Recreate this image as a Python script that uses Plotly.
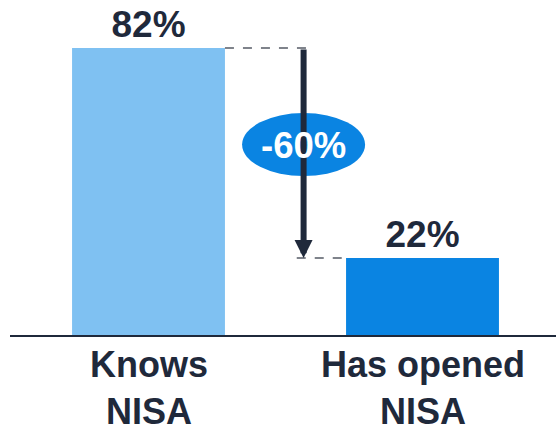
import plotly.graph_objects as go

# Survey results: awareness vs. account opening
categories = ["Knows<br>NISA", "Has opened<br>NISA"]
values = [82, 22]
bar_colors = ["#7fc1f2", "#0a84e2"]
change_label = "-60%"

INK = "#1f293b"
FONT = "Liberation Sans, Arial, sans-serif"

WIDTH, HEIGHT = 556, 434
MARGIN_B = 99
PLOT_H = HEIGHT - MARGIN_B

x_pos = list(range(len(categories)))
bar_width = 0.558

fig = go.Figure()
fig.add_trace(go.Bar(
    x=x_pos,
    y=values,
    width=bar_width,
    marker=dict(color=bar_colors, line=dict(width=0)),
    text=[f"{v}%" for v in values],
    texttemplate="<b>%{text}</b>",
    textposition="outside",
    textfont=dict(family=FONT, size=37, color=INK),
    cliponaxis=False,
    hoverinfo="skip",
))

# Category names under the baseline
for xp, cat in zip(x_pos, categories):
    fig.add_annotation(x=xp, xref="x", y=-MARGIN_B / PLOT_H, yref="paper",
                       yanchor="bottom", yshift=1, borderpad=0,
                       text=f"<b>{cat}</b>", showarrow=False, align="center",
                       font=dict(family=FONT, size=36, color=INK))

# Dashed guides from each bar top toward the arrow
arrow_x = 0.566
fig.add_shape(type="line", xref="x", yref="y",
              x0=x_pos[0] + bar_width / 2, x1=0.599, y0=values[0], y1=values[0],
              line=dict(color="#555b66", width=1.5, dash="dash"))
fig.add_shape(type="line", xref="x", yref="y",
              x0=0.541, x1=x_pos[1] - bar_width / 2, y0=values[1], y1=values[1],
              line=dict(color="#555b66", width=1.5, dash="dash"))

# Drop arrow from the first value down to the second
fig.add_annotation(x=arrow_x, y=values[1], ax=arrow_x, ay=values[0],
                   xref="x", yref="y", axref="x", ayref="y",
                   text="", showarrow=True, arrowhead=2, arrowsize=0.6,
                   arrowwidth=6, arrowcolor=INK, standoff=0, startstandoff=0)

# Ellipse badge with the change label
mid_y = (values[0] + values[1]) / 2 + 2.4
fig.add_shape(type="circle", xref="x", yref="y",
              xsizemode="pixel", ysizemode="pixel",
              xanchor=arrow_x, yanchor=mid_y,
              x0=-61.5, x1=61.5, y0=-31.5, y1=31.5,
              fillcolor="#0a84e2", line=dict(width=0), layer="above")
fig.add_annotation(x=arrow_x, y=mid_y, xref="x", yref="y",
                   text=f"<b>{change_label}</b>", showarrow=False,
                   font=dict(family=FONT, size=36.5, color="white"),
                   yshift=-1)

fig.update_layout(
    width=WIDTH, height=HEIGHT,
    margin=dict(l=10, r=0, t=0, b=MARGIN_B),
    paper_bgcolor="white", plot_bgcolor="white",
    showlegend=False,
    font=dict(family=FONT, color=INK),
    xaxis=dict(
        range=[-0.5055, 1.4872],
        showticklabels=False,
        showline=True, linecolor=INK, linewidth=2,
        showgrid=False, zeroline=False, ticks="",
        automargin=False, fixedrange=True,
    ),
    yaxis=dict(range=[0, 95.71], visible=False, automargin=False, fixedrange=True),
)

fig.write_html("out.html")
